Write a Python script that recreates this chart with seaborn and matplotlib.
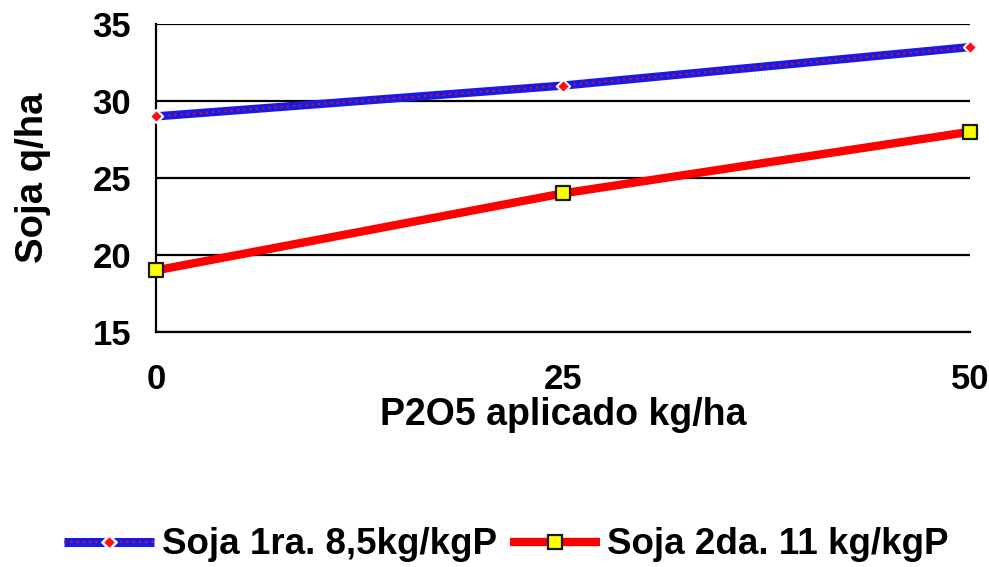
import matplotlib
matplotlib.use("Agg")
import matplotlib.pyplot as plt
import seaborn as sns
import pandas as pd
from matplotlib.lines import Line2D

x_vals = [0, 25, 50]
soja1 = [29, 31, 33.5]
soja2 = [19, 24, 28]
series_names = ["Soja 1ra. 8,5kg/kgP", "Soja 2da. 11 kg/kgP"]
y_ticks = [15, 20, 25, 30, 35]
x_ticks = [0, 25, 50]

df = pd.DataFrame({
    "x": x_vals * 2,
    "y": soja1 + soja2,
    "serie": [series_names[0]] * 3 + [series_names[1]] * 3,
})

sns.set_theme(style="white")
plt.rcParams['font.family'] = ['Liberation Sans', 'DejaVu Sans']
plt.rcParams['font.weight'] = 'bold'
plt.rcParams['text.color'] = 'black'
plt.rcParams['axes.labelcolor'] = 'black'

fig = plt.figure(figsize=(9.89, 5.67), dpi=100)
ax = fig.add_axes([0.1577, 0.4145, 0.8231, 0.5432])

d1 = df[df.serie == series_names[0]]
d2 = df[df.serie == series_names[1]]

BLUE = "#1a1ae6"
sns.lineplot(data=d1, x="x", y="y", ax=ax, color=BLUE, linewidth=6, legend=False, zorder=3)
sns.lineplot(data=d1, x="x", y="y", ax=ax, color="#e01010", linewidth=1.5, linestyle=(0, (1, 2)), legend=False, zorder=4)
ax.scatter(d1.x, d1.y, marker="D", s=45, color="#ff1010", edgecolor="white", linewidth=1.5, zorder=6, clip_on=False)

sns.lineplot(data=d2, x="x", y="y", ax=ax, color="#ff0000", linewidth=6, legend=False, zorder=3)
ax.scatter(d2.x, d2.y, marker="s", s=100, color="#ffff00", edgecolor="#1a1a1a", linewidth=1.6, zorder=6, clip_on=False)

ax.set_xlim(0, 50)
ax.set_ylim(15, 35)
ax.set_yticks(y_ticks)
ax.set_xticks(x_ticks)
ax.yaxis.grid(True, color="black", linewidth=1.6)
ax.xaxis.grid(False)
ax.set_axisbelow(True)

for s in ["top", "right"]:
    ax.spines[s].set_visible(False)
for s in ["left", "bottom"]:
    ax.spines[s].set_color("black")
    ax.spines[s].set_linewidth(1.6)

ax.tick_params(axis="both", direction="out", length=8, width=1.6, color="black",
               labelsize=25, labelcolor="black")
ax.tick_params(axis="x", pad=14)
ax.tick_params(axis="y", pad=10)
for lab in ax.get_xticklabels() + ax.get_yticklabels():
    lab.set_fontweight("bold")

ax.set_xlabel("P2O5 aplicado kg/ha", fontsize=27, fontweight="bold", labelpad=1, color="black")
ax.set_ylabel("Soja q/ha", fontsize=27.5, fontweight="bold", labelpad=30, color="black")

h1_base = Line2D([], [], color=BLUE, linewidth=6.5, solid_capstyle="butt")
h1_dot = Line2D([], [], color="#e01010", linewidth=1.5, linestyle=(0, (1, 2)))
h1_mk = Line2D([], [], linestyle="none", marker="D", markersize=7.5, markerfacecolor="#ff1010",
               markeredgecolor="white", markeredgewidth=1.8)
h2_base = Line2D([], [], color="#ff0000", linewidth=6, solid_capstyle="butt")
h2_mk = Line2D([], [], linestyle="none", marker="s", markersize=10, markerfacecolor="#ffff00",
               markeredgecolor="#1a1a1a", markeredgewidth=1.6)

fig.legend([(h1_base, h1_dot, h1_mk), (h2_base, h2_mk)], series_names,
           loc="center", bbox_to_anchor=(0.512, 0.039), ncol=2, frameon=False,
           prop={"weight": "bold", "size": 26.5}, handlelength=2.45,
           columnspacing=0.35, handletextpad=0.2, labelcolor="black")

fig.savefig("out.png", dpi=100)
